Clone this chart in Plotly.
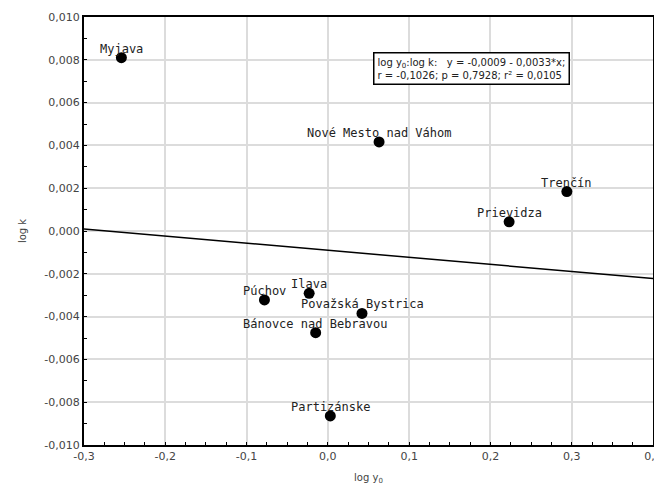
import plotly.graph_objects as go

towns = ["Myjava", "Nové Mesto nad Váhom", "Trenčín", "Prievidza", "Púchov",
         "Ilava", "Považská Bystrica", "Bánovce nad Bebravou", "Partizánske"]
log_y0 = [-0.254, 0.063, 0.294, 0.223, -0.078, -0.023, 0.042, -0.015, 0.003]
log_k = [0.0081, 0.00416, 0.00184, 0.00043, -0.00322, -0.00291, -0.00385, -0.00475, -0.00864]

x_ticks = [-0.3, -0.2, -0.1, 0.0, 0.1, 0.2, 0.3, 0.4]
x_tick_labels = ["-0,3", "-0,2", "-0,1", "0,0", "0,1", "0,2", "0,3", "0,4"]
y_ticks = [0.010, 0.008, 0.006, 0.004, 0.002, 0.0, -0.002, -0.004, -0.006, -0.008, -0.010]
y_tick_labels = ["0,010", "0,008", "0,006", "0,004", "0,002", "0,000",
                 "-0,002", "-0,004", "-0,006", "-0,008", "-0,010"]

intercept = -0.0009
slope = -0.0033
x_range = [-0.3, 0.4]
y_range = [-0.010, 0.010]
fit_y = [intercept + slope * v for v in x_range]

fig = go.Figure()
fig.add_trace(go.Scatter(x=x_range, y=fit_y, mode="lines",
                         line=dict(color="black", width=1.5), hoverinfo="skip"))
fig.add_trace(go.Scatter(x=log_y0, y=log_k, mode="markers",
                         marker=dict(color="black", size=11)))

for name, xv, yv in zip(towns, log_y0, log_k):
    fig.add_annotation(x=xv, y=yv, text=name, showarrow=False, yshift=9,
                       font=dict(family="DejaVu Sans Mono", size=12, color="#222"))

fig.add_annotation(xref="paper", yref="paper", x=0.508, y=0.918,
                   xanchor="left", yanchor="top", align="left", showarrow=False,
                   text="log y<sub>0</sub>:log k:   y = -0,0009 - 0,0033*x;<br>r = -0,1026; p = 0,7928; r² = 0,0105",
                   font=dict(family="DejaVu Sans", size=10, color="#222"),
                   bordercolor="black", borderwidth=1.5, borderpad=3, bgcolor="white")

tick_font = dict(family="DejaVu Sans", size=11, color="#444")
title_font = dict(family="DejaVu Sans", size=10, color="#444")
axis_common = dict(showline=True, linecolor="black", linewidth=2, mirror=True,
                   showgrid=True, gridcolor="#dcdcdc", gridwidth=1.5, zeroline=False,
                   ticks="inside", ticklen=3, tickcolor="black", automargin=False,
                   tickfont=tick_font)

fig.update_xaxes(range=x_range, tickvals=x_ticks, ticktext=x_tick_labels,
                 minor=dict(dtick=0.025, ticks="inside", ticklen=3, tickcolor="black", showgrid=False),
                 title=dict(text="log y<sub>0</sub>", font=title_font, standoff=12),
                 **axis_common)
fig.update_yaxes(range=y_range, tickvals=y_ticks, ticktext=y_tick_labels,
                 minor=dict(dtick=0.001, ticks="inside", ticklen=3, tickcolor="black", showgrid=False),
                 title=dict(text="log k", font=title_font, standoff=16),
                 **axis_common)

fig.update_layout(width=654, height=480, showlegend=False,
                  plot_bgcolor="white", paper_bgcolor="white",
                  margin=dict(l=76, r=9, t=9, b=43))
fig.write_html("out.html")
